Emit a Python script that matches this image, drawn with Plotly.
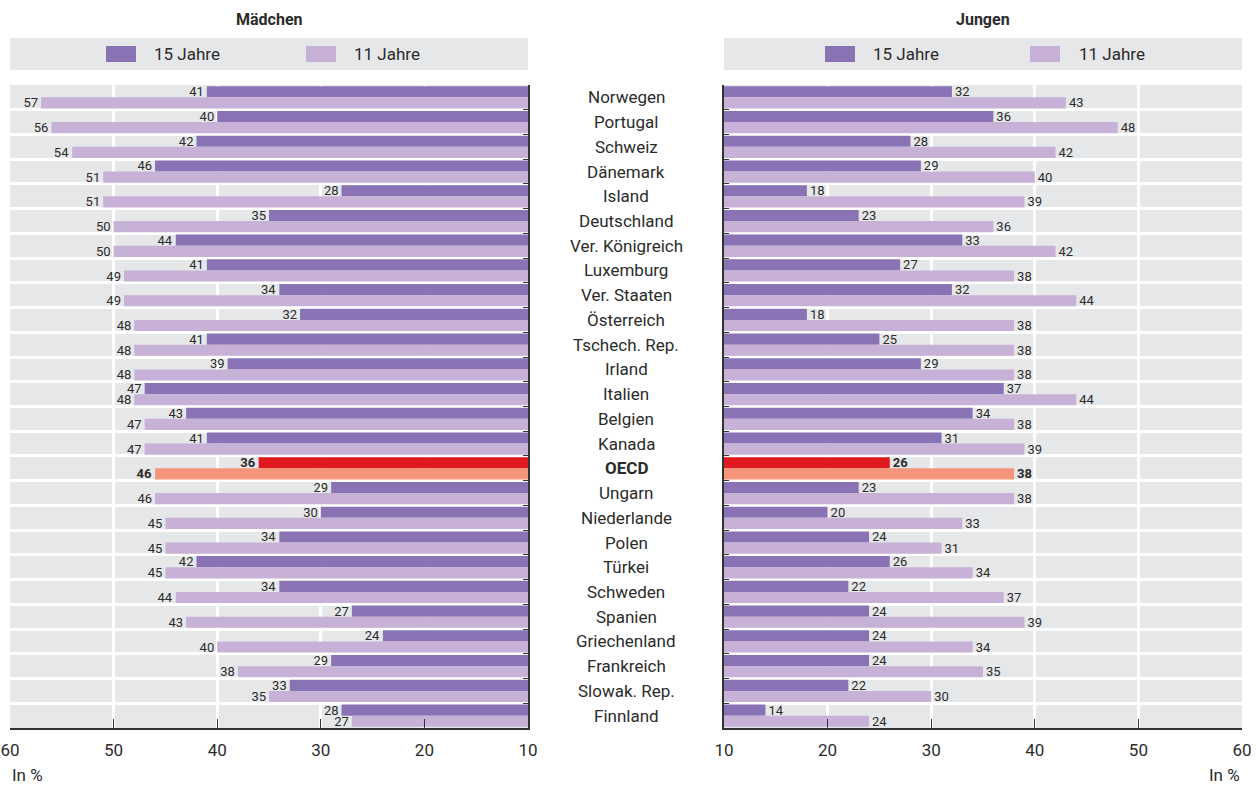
import plotly.graph_objects as go

countries = ["Norwegen", "Portugal", "Schweiz", "Dänemark", "Island", "Deutschland",
             "Ver. Königreich", "Luxemburg", "Ver. Staaten", "Österreich", "Tschech. Rep.",
             "Irland", "Italien", "Belgien", "Kanada", "OECD", "Ungarn", "Niederlande",
             "Polen", "Türkei", "Schweden", "Spanien", "Griechenland", "Frankreich",
             "Slowak. Rep.", "Finnland"]

girls_15 = [41, 40, 42, 46, 28, 35, 44, 41, 34, 32, 41, 39, 47, 43, 41, 36, 29, 30, 34, 42, 34, 27, 24, 29, 33, 28]
girls_11 = [57, 56, 54, 51, 51, 50, 50, 49, 49, 48, 48, 48, 48, 47, 47, 46, 46, 45, 45, 45, 44, 43, 40, 38, 35, 27]
boys_15 = [32, 36, 28, 29, 18, 23, 33, 27, 32, 18, 25, 29, 37, 34, 31, 26, 23, 20, 24, 26, 22, 24, 24, 24, 22, 14]
boys_11 = [43, 48, 42, 40, 39, 36, 42, 38, 44, 38, 38, 38, 44, 38, 39, 38, 38, 33, 31, 34, 37, 39, 34, 35, 30, 24]

x_ticks = [10, 20, 30, 40, 50, 60]
series_names = ["15 Jahre", "11 Jahre"]
panel_titles = ["Mädchen", "Jungen"]
highlight = "OECD"

FONT = "Roboto, Liberation Sans, sans-serif"
C15, C11 = "#8a73b4", "#c8b1d6"
C15H, C11H = "#e0191f", "#f4957b"
BG = "#e6e7e9"
TXT = "#2b2b2b"

W, H = 1256, 787
ML, MR, MT, MB = 10, 14, 85, 59
PW = W - ML - MR
PH = H - MT - MB


def px_x(p):
    return (p - ML) / PW


def px_y(p):
    return (H - MB - p) / PH


def colors(base, hi):
    return [hi if c == highlight else base for c in countries]


def labels(vals):
    return [f"<b>{v}</b>" if c == highlight else str(v) for v, c in zip(vals, countries)]


fig = go.Figure()

for vals, base, hi, name, xa in [
    (girls_15, C15, C15H, series_names[0], "x"),
    (girls_11, C11, C11H, series_names[1], "x"),
    (boys_15, C15, C15H, series_names[0], "x2"),
    (boys_11, C11, C11H, series_names[1], "x2"),
]:
    fig.add_trace(go.Bar(
        y=countries, x=vals, orientation="h", name=name,
        xaxis=xa, yaxis="y" if xa == "x" else "y2",
        marker=dict(color=colors(base, hi), line=dict(width=0)),
        text=labels(vals), textposition="outside", cliponaxis=False,
        constraintext="none", textangle=0,
        textfont=dict(family=FONT, size=13, color=TXT),
        showlegend=False, hoverinfo="x+y",
    ))

left_end = px_x(528)
right_start = px_x(724)

common_x = dict(
    tickvals=x_ticks, showgrid=True, gridcolor="white", gridwidth=3,
    zeroline=False, showline=True, linecolor="#333333", linewidth=2,
    ticks="inside", ticklen=9, tickcolor="#333333", tickwidth=1,
    tickfont=dict(family=FONT, size=17, color=TXT), ticklabelstandoff=6,
    automargin=False,
)
common_y = dict(
    type="category", autorange="reversed", tickson="boundaries",
    showgrid=True, gridcolor="white", gridwidth=3,
    showline=True, linecolor="#333333", linewidth=2,
    ticks="inside", ticklen=5, tickcolor="#333333",
    showticklabels=False, automargin=False,
)

fig.update_layout(
    width=W, height=H, autosize=False,
    margin=dict(l=ML, r=MR, t=MT, b=MB, autoexpand=False),
    paper_bgcolor="white", plot_bgcolor=BG,
    barmode="group", bargap=0.1, bargroupgap=0.0,
    font=dict(family=FONT, color=TXT),
    xaxis=dict(domain=[0, left_end], range=[60, 10], **common_x),
    xaxis2=dict(domain=[right_start, 1], range=[10, 60], anchor="y2", **common_x),
    yaxis=dict(anchor="x", side="right", **common_y),
    yaxis2=dict(anchor="x2", side="left", **common_y),
    showlegend=False,
)

shapes = []
annotations = []

# panel header boxes, legends and titles
panels = [
    (0, left_end, [(106, 152), (306, 352)], 269),
    (right_start, 1, [(825, 871), (1030, 1077)], 983),
]
for (x0, x1, items, tx), title in zip(panels, panel_titles):
    shapes.append(dict(type="rect", xref="paper", yref="paper", x0=x0, x1=x1,
                       y0=px_y(70), y1=px_y(38), fillcolor=BG, line=dict(width=0), layer="below"))
    for (sw, txx), nm, col in zip(items, series_names, [C15, C11]):
        shapes.append(dict(type="rect", xref="paper", yref="paper", x0=px_x(sw), x1=px_x(sw + 30),
                           y0=px_y(62), y1=px_y(46), fillcolor=col, line=dict(width=0)))
        annotations.append(dict(xref="paper", yref="paper", x=px_x(txx), y=px_y(54),
                                text=nm, showarrow=False, xanchor="left", yanchor="middle",
                                font=dict(family=FONT, size=17, color=TXT)))
    annotations.append(dict(xref="paper", yref="paper", x=px_x(tx), y=px_y(19),
                            text=f"<b>{title}</b>", showarrow=False, xanchor="center", yanchor="middle",
                            font=dict(family=FONT, size=16, color=TXT)))

# country labels in the middle
mid = (left_end + right_start) / 2
for c in countries:
    annotations.append(dict(xref="paper", yref="y", x=mid, y=c,
                            text=f"<b>{c}</b>" if c == highlight else c,
                            showarrow=False, xanchor="center", yanchor="middle",
                            font=dict(family=FONT, size=17, color=TXT)))

# unit notes
annotations.append(dict(xref="paper", yref="paper", x=0, y=px_y(775), text="In %",
                        showarrow=False, xanchor="left", yanchor="middle",
                        font=dict(family=FONT, size=17, color=TXT)))
annotations.append(dict(xref="paper", yref="paper", x=1, y=px_y(775), text="In %",
                        showarrow=False, xanchor="right", yanchor="middle",
                        font=dict(family=FONT, size=17, color=TXT)))

fig.update_layout(shapes=shapes, annotations=annotations)
fig.write_html("out.html", config={"displayModeBar": False},
               post_script="document.body.style.margin='0';document.body.style.overflow='hidden';")
